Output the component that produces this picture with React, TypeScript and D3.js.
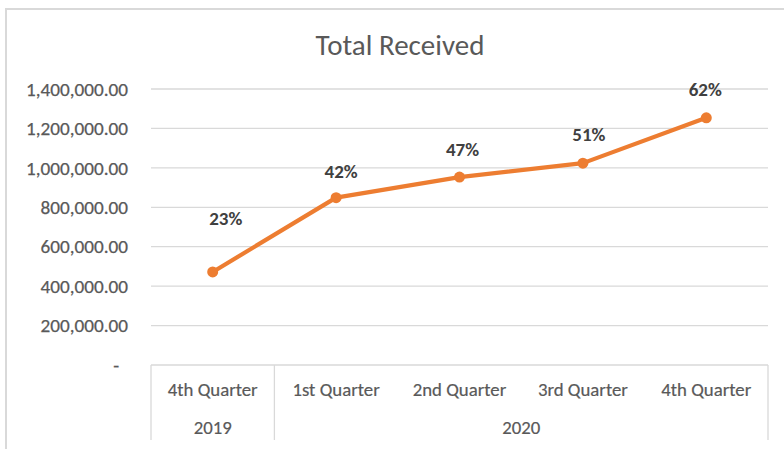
import React from "react";
import * as d3 from "d3";

// ---- data ----
const quarters = ["4th Quarter", "1st Quarter", "2nd Quarter", "3rd Quarter", "4th Quarter"];
const years = ["2019", "2020", "2020", "2020", "2020"];
const totalReceived = [472000, 849000, 953000, 1024000, 1254000];
const pctLabels = ["23%", "42%", "47%", "51%", "62%"];
const yTicks = [0, 200000, 400000, 600000, 800000, 1000000, 1200000, 1400000];

// ---- layout (label nudges as placed on the original chart) ----
const labelNudge = [
  [13, -54],
  [5, -26],
  [3, -28],
  [6, -29],
  [-1, -28],
];

const W = 784;
const H = 449;
const FONT = "Carlito, Calibri, Lato, 'Open Sans', sans-serif";

export default function App() {
  const left = 151;
  const right = 768;
  const top = 89;
  const bottom = 365;

  const x = d3.scaleBand<number>().domain(d3.range(quarters.length)).range([left, right]).padding(0);
  const y = d3.scaleLinear().domain([0, 1400000]).range([bottom, top]);
  const fmt = d3.format(",.2f");

  const line = d3
    .line<number>()
    .x((_, i) => x(i)! + x.bandwidth() / 2)
    .y((d) => y(d));

  // group years for the second axis level
  const yearGroups: { year: string; start: number; end: number }[] = [];
  years.forEach((yr, i) => {
    const last = yearGroups[yearGroups.length - 1];
    if (last && last.year === yr) last.end = i;
    else yearGroups.push({ year: yr, start: i, end: i });
  });

  const boxBottom = 440;

  return (
    <svg width={W} height={H} style={{ position: "absolute", left: 0, top: 0, background: "#fff" }}>
      <rect x={6} y={9} width={W} height={H} fill="#fff" stroke="#D9D9D9" strokeWidth={2} />
      <text x={400} y={55} textAnchor="middle" fontFamily={FONT} fontSize={29} fill="#595959">
        Total Received
      </text>

      {/* gridlines */}
      {yTicks
        .filter((t) => t > 0)
        .map((t) => (
          <line key={t} x1={left} x2={right} y1={y(t)} y2={y(t)} stroke="#D9D9D9" strokeWidth={1.3} />
        ))}

      {/* y tick labels */}
      {yTicks.map((t) => (
        <text
          key={"l" + t}
          x={t === 0 ? 119 : 128}
          y={y(t)}
          dy="0.35em"
          textAnchor="end"
          fontFamily={FONT}
          fontSize={19.2}
          fill="#595959"
          stroke="#595959"
          strokeWidth={0.25}
        >
          {t === 0 ? "-" : fmt(t)}
        </text>
      ))}

      {/* category axis box */}
      <line x1={left} x2={right} y1={bottom} y2={bottom} stroke="#D9D9D9" strokeWidth={1.3} />
      {yearGroups.map((g, gi) => (
        <line
          key={"v" + gi}
          x1={x(g.start)!}
          x2={x(g.start)!}
          y1={bottom}
          y2={boxBottom}
          stroke="#D9D9D9"
          strokeWidth={1.3}
        />
      ))}
      <line x1={right} x2={right} y1={bottom} y2={boxBottom} stroke="#D9D9D9" strokeWidth={1.3} />

      {quarters.map((q, i) => (
        <text
          key={"q" + i}
          x={x(i)! + x.bandwidth() / 2}
          y={396}
          textAnchor="middle"
          fontFamily={FONT}
          fontSize={18.8}
          fill="#595959"
          stroke="#595959"
          strokeWidth={0.2}
        >
          {q}
        </text>
      ))}
      {yearGroups.map((g, gi) => (
        <text
          key={"y" + gi}
          x={(x(g.start)! + x(g.end)! + x.bandwidth()) / 2}
          y={434}
          textAnchor="middle"
          fontFamily={FONT}
          fontSize={18.8}
          fill="#595959"
          stroke="#595959"
          strokeWidth={0.2}
        >
          {g.year}
        </text>
      ))}

      {/* series */}
      <path d={line(totalReceived)!} fill="none" stroke="#ED7D31" strokeWidth={4.2} strokeLinejoin="round" />
      {totalReceived.map((v, i) => (
        <circle key={"c" + i} cx={x(i)! + x.bandwidth() / 2} cy={y(v)} r={5.5} fill="#ED7D31" />
      ))}
      {totalReceived.map((v, i) => (
        <text
          key={"p" + i}
          x={x(i)! + x.bandwidth() / 2 + labelNudge[i][0]}
          y={y(v) + labelNudge[i][1]}
          dy="0.35em"
          textAnchor="middle"
          fontFamily={FONT}
          fontSize={19}
          fontWeight="bold"
          fill="#404040"
        >
          {pctLabels[i]}
        </text>
      ))}
    </svg>
  );
}
